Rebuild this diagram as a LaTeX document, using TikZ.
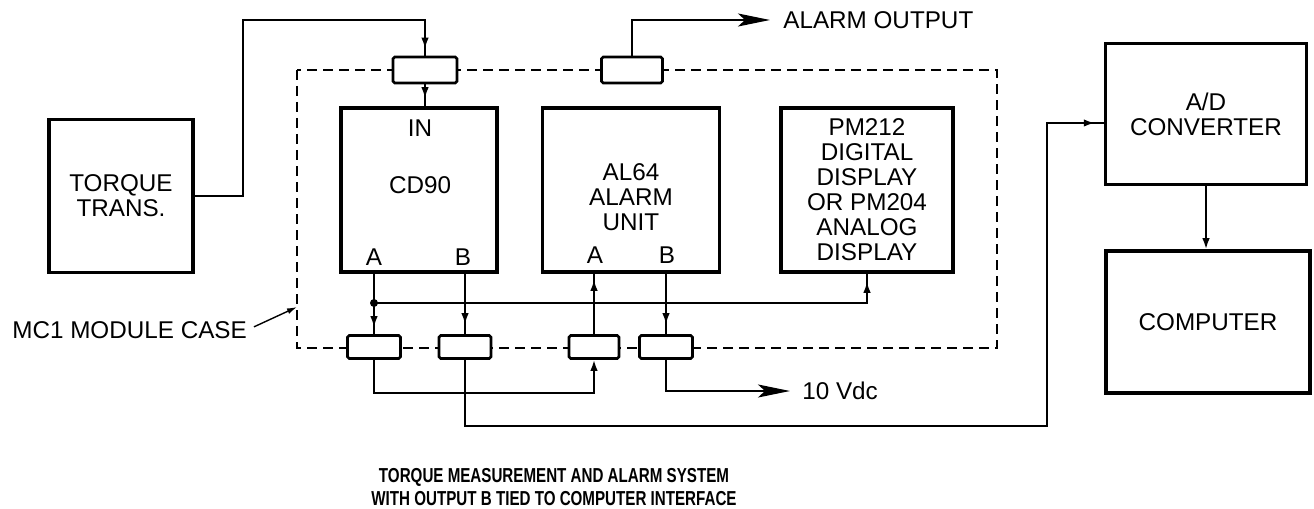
\documentclass[tikz,border=0pt]{standalone}
\usepackage{fontspec}
\setmainfont{Liberation Sans}
\newfontfamily\capfont[FakeStretch=0.75]{Liberation Sans}
\usetikzlibrary{arrows.meta,calc,decorations.markings}

\begin{document}
\begin{tikzpicture}[x=0.2mm,y=-0.2mm,font=\fontsize{13.8}{14.2}\selectfont,
  block/.style={draw,line width=2pt,inner sep=0pt,align=center},
  port/.style={draw,fill=white,line width=1.5pt,rounded corners=1pt,inner sep=0pt},
  wire/.style={line width=1.1pt},
  midtip/.style={postaction={decorate},decoration={markings,
      mark=at position #1 with {\arrow{Latex[length=2.2mm,width=1.5mm]}}}},
  endtip/.style={-{Latex[length=2.2mm,width=1.5mm]}},
  bigtip/.style={-{Stealth[length=6.4mm,width=2.6mm,inset=1.4mm]}}]
  \useasboundingbox (0,0) rectangle (1314,509);
  % transducer
  \node[block,minimum width=28.8mm,minimum height=30.6mm] (trans) at (121,196) {TORQUE\\TRANS.};
  % module case
  \draw[wire,dash pattern=on 2mm off 1.2mm] (297,70) rectangle (997,348);
  \coordinate (casetip) at (297,307);
  \node[port,minimum width=12.8mm,minimum height=5.2mm] (inport) at (425,70) {};
  \node[port,minimum width=12.2mm,minimum height=5.2mm] (alport) at (632,70) {};
  \node[port,minimum width=10.6mm,minimum height=4.6mm] (pa) at (374,347) {};
  \node[port,minimum width=10.4mm,minimum height=4.6mm] (pb) at (465,347) {};
  \node[port,minimum width=10mm,minimum height=4.6mm] (pc) at (594,347) {};
  \node[port,minimum width=10.6mm,minimum height=4.6mm] (pd) at (666,347) {};
  % modules
  \node[block,minimum width=31.2mm,minimum height=32.8mm] (cd90) at (419,190) {};
  \node (cd90in) at (420,128) {IN};
  \node (cd90lbl) at (420,185) {CD90};
  \node (cd90a) at (374,257) {A};
  \node (cd90b) at (463,257) {B};
  \node[block,minimum width=35.4mm,minimum height=32.8mm] (al64) at (631,190) {};
  \node[align=center] (al64lbl) at (631,197) {AL64\\ALARM\\UNIT};
  \node (al64a) at (595,255) {A};
  \node (al64b) at (667,255) {B};
  \node[block,minimum width=34.4mm,minimum height=32.8mm] (pm) at (867,190)
    {PM212\\DIGITAL\\DISPLAY\\OR PM204\\ANALOG\\DISPLAY};
  % computer side
  \node[block,minimum width=40.2mm,minimum height=28.2mm] (ad) at (1206,114) {A/D\\CONVERTER};
  \node[block,minimum width=40.8mm,minimum height=28.4mm] (comp) at (1208,322) {COMPUTER};
  % texts
  \node[anchor=west,inner sep=0pt] (alout) at (783,20) {ALARM OUTPUT};
  \node[anchor=west,inner sep=0pt] (vdc) at (802,391) {10 Vdc};
  \node[anchor=west,inner sep=0pt] (mc1) at (12,330) {MC1 MODULE CASE};
  \node[align=center,font=\capfont\bfseries\fontsize{11.5}{13}\selectfont] (title) at (554,487)
    {TORQUE MEASUREMENT AND ALARM SYSTEM\\WITH OUTPUT B TIED TO COMPUTER INTERFACE};
  % wiring
  \draw[wire,midtip=-1.4mm] (trans.east) -| (243,20) -| (inport.north);
  \draw[wire,midtip=-1.6mm] (inport.south) -- (inport.south |- cd90.north);
  \draw[wire,bigtip,shorten >=2.6mm] (alport.north) |- (alout.west);
  \coordinate (split) at (374,303);
  \draw[wire,midtip=-1.4mm] (pa.north |- cd90.south) -- (pa.north);
  \fill (split) circle[radius=0.8mm];
  \draw[wire,midtip=-1.6mm] (split) -| (pm.south);
  \draw[wire,midtip=-2mm] (pb.north |- cd90.south) -- (pb.north);
  \draw[wire,midtip=-1.2mm] (pc.north) -- (pc.north |- al64.south);
  \draw[wire,midtip=-2mm] (pd.north |- al64.south) -- (pd.north);
  \draw[wire,endtip] (pa.south) -- ++(0,33) -| (pc.south);
  \draw[wire,bigtip,shorten >=2.4mm] (pd.south) |- (vdc.west);
  \draw[wire,midtip=-1.8mm] (pb.south) |- (1047,426) |- ($(ad.west)+(0,9)$);
  \draw[wire,endtip] (ad.south) -- (ad.south |- comp.north);
  \draw[line width=0.8pt,-{Latex[length=2mm,width=1.2mm]},shorten <=1.5mm] (mc1.east) -- (casetip);
\end{tikzpicture}
\end{document}
